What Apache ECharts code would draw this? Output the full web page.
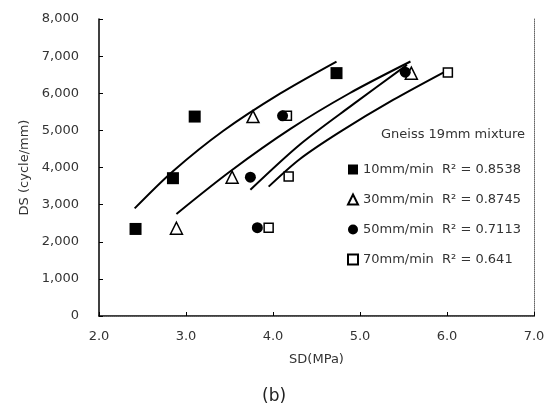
<!DOCTYPE html>
<html>
<head>
<meta charset="utf-8">
<script src="https://cdn.jsdelivr.net/npm/echarts@6/dist/echarts.min.js"></script>
<style>
  html, body { margin: 0; padding: 0; background: #fff; }
  #myChart { width: 551px; height: 418px; }
</style>
</head>
<body>
<div id="myChart"></div>
<script>
// measured points (SD in MPa, DS in cycle/mm)
const sd10 = [2.42, 2.85, 3.10, 4.73];
const ds10 = [2345, 3712, 5372, 6542];
const sd30 = [2.89, 3.53, 3.77, 5.59];
const ds30 = [2364, 3739, 5372, 6542];
const sd50 = [3.82, 3.74, 4.11, 5.52];
const ds50 = [2380, 3739, 5391, 6569];
const sd70 = [3.95, 4.18, 4.16, 6.01];
const ds70 = [2380, 3755, 5391, 6558];

// trend lines
const fit10x = [2.41, 2.85, 3.43, 4.08, 4.73];
const fit10y = [2900, 3900, 4990, 5990, 6855];
const fit30x = [2.89, 3.51, 4.20, 4.88, 5.58];
const fit30y = [2750, 3900, 5040, 6000, 6855];
const fit50x = [3.74, 4.31, 4.92, 5.54];
const fit50y = [3400, 4620, 5700, 6765];
const fit70x = [3.95, 4.31, 4.77, 5.38, 6.00];
const fit70y = [3485, 4230, 4960, 5820, 6612];

const rateNames = ["10mm/min", "30mm/min", "50mm/min", "70mm/min"];
const r2 = ["0.8538", "0.8745", "0.7113", "0.641"];

const font = "DejaVu Sans";
const zip = (xs, ys) => xs.map((x, i) => [x, ys[i]]);

function scatter(name, xs, ys, symbol, size, filled, z) {
  return {
    name: name,
    type: "scatter",
    symbol: symbol,
    symbolSize: size,
    z: z,
    itemStyle: {
      color: filled ? "#000" : "#fff",
      borderColor: "#000",
      borderWidth: filled ? 0 : 1.5,
      opacity: 1,
    },
    data: zip(xs, ys),
  };
}

function trend(xs, ys) {
  return {
    type: "line",
    smooth: 0.3,
    showSymbol: false,
    silent: true,
    z: 1,
    lineStyle: { color: "#000", width: 2 },
    data: zip(xs, ys),
  };
}

let myChart = echarts.init(document.getElementById("myChart"));
let option = {
  backgroundColor: "#fff",
  animation: false,
  textStyle: { fontFamily: font },
  title: {
    text: "Gneiss 19mm mixture",
    left: 376,
    top: 123,
    textStyle: { fontFamily: font, fontSize: 13, fontWeight: "normal", color: "#333" },
  },
  legend: {
    data: rateNames,
    orient: "vertical",
    left: 342,
    top: 156,
    itemWidth: 10,
    itemHeight: 10,
    itemGap: 13,
    formatter: function (name) {
      return name + "  R\u00b2 = " + r2[rateNames.indexOf(name)];
    },
    textStyle: { fontFamily: font, fontSize: 13, color: "#333", lineHeight: 17 },
  },
  grid: { left: 99, right: 17, top: 19, bottom: 102 },
  xAxis: [
    {
      type: "value",
      min: 2,
      max: 7,
      interval: 1,
      name: "SD(MPa)",
      nameLocation: "middle",
      nameGap: 37,
      nameTextStyle: { fontFamily: font, fontSize: 13, color: "#333" },
      axisLine: { lineStyle: { color: "#000", width: 1.5 } },
      axisTick: { inside: true, length: 4, lineStyle: { color: "#000" } },
      axisLabel: {
        margin: 14,
        fontFamily: font,
        fontSize: 13,
        color: "#333",
        formatter: (v) => v.toFixed(1),
      },
      splitLine: { show: false },
    },
    {
      type: "value",
      position: "top",
      min: 2,
      max: 7,
      axisLine: { show: true, lineStyle: { color: "#666", width: 1, type: "dotted" } },
      axisTick: { show: false },
      axisLabel: { show: false },
      splitLine: { show: false },
    },
  ],
  yAxis: [
    {
      type: "value",
      min: 0,
      max: 8000,
      interval: 1000,
      name: "DS (cycle/mm)",
      nameLocation: "middle",
      nameGap: 68,
      nameTextStyle: { fontFamily: font, fontSize: 13, color: "#333" },
      axisLine: { show: true, lineStyle: { color: "#000", width: 1.5 } },
      axisTick: { show: true, inside: true, length: 4, lineStyle: { color: "#000" } },
      axisLabel: {
        margin: 20,
        fontFamily: font,
        fontSize: 13,
        color: "#333",
        formatter: (v) => v.toLocaleString("en-US"),
      },
      splitLine: { show: false },
    },
    {
      type: "value",
      position: "right",
      min: 0,
      max: 8000,
      axisLine: { show: true, lineStyle: { color: "#666", width: 1, type: "dotted" } },
      axisTick: { show: false },
      axisLabel: { show: false },
      splitLine: { show: false },
    },
  ],
  graphic: [
    {
      type: "text",
      left: 262,
      top: 388,
      style: { text: "(b)", fontFamily: font, fontSize: 17, fill: "#222" },
    },
  ],
  series: [
    trend(fit10x, fit10y),
    trend(fit30x, fit30y),
    trend(fit50x, fit50y),
    trend(fit70x, fit70y),
    scatter(rateNames[0], sd10, ds10, "rect", 12, true, 3),
    scatter(rateNames[1], sd30, ds30, "triangle", 12, false, 3),
    scatter(rateNames[3], sd70, ds70, "rect", 9, false, 3),
    scatter(rateNames[2], sd50, ds50, "circle", 11, true, 4),
  ],
};
myChart.setOption(option);
</script>
</body>
</html>
